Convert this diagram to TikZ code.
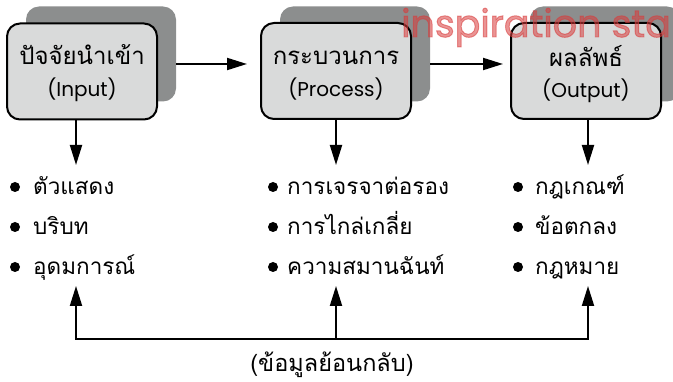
\documentclass[tikz,border=0pt]{standalone}
\usepackage{fontspec}
\newfontfamily\thai[Script=Thai]{Loma}
\newfontfamily\lat{Poppins}
\newfontfamily\wmfont[FakeBold=2.5]{Poppins}
\usetikzlibrary{arrows.meta}
\definecolor{boxfill}{HTML}{D9DADA}
\definecolor{shadowgray}{HTML}{8C8E8E}
\definecolor{wmred}{HTML}{D83C3C}
\tikzset{
  box/.style={draw=black, line width=2pt, fill=boxfill, rounded corners=13pt,
    minimum width=150pt, minimum height=96pt, inner sep=0pt},
  shadowbox/.style={fill=shadowgray, rounded corners=13pt,
    minimum width=150pt, minimum height=95pt, inner sep=0pt},
  arr/.style={line width=2pt, -{Triangle[length=20pt,width=12pt]}},
  conn/.style={line width=2pt},
  thaibox/.style={anchor=base, inner sep=0pt, font=\thai\fontsize{24}{26}\selectfont},
  latbox/.style={anchor=base, inner sep=0pt, font=\lat\fontsize{20}{22}\selectfont},
  item/.style={anchor=base west, inner sep=0pt, font=\thai\fontsize{22.5}{24}\selectfont},
  dot/.style={fill=black, circle, inner sep=0pt, minimum size=10pt}
}
\begin{document}
\begin{tikzpicture}[x=1pt,y=-1pt]
\useasboundingbox (0,0) rectangle (673,382);
% shadows
\node[shadowbox] (s1) at (101,54) {};
\node[shadowbox] (s2) at (355,54) {};
\node[shadowbox] (s3) at (605,54) {};
% boxes
\node[box] (in) at (82,71.5) {};
\node[box] (pr) at (336,71) {};
\node[box] (out) at (586,71) {};
\node[thaibox] (in1) at (82,65) {ปัจจัยนำเข้า};
\node[latbox] (in2) at (82,97) {(Input)};
\node[thaibox] (pr1) at (336,65) {กระบวนการ};
\node[latbox] (pr2) at (336,97) {(Process)};
\node[thaibox] (out1) at (586,67) {ผลลัพธ์};
\node[latbox] (out2) at (586,98) {(Output)};
% horizontal arrows
\draw[arr, shorten >=13pt] ([yshift=-10pt]s1.east) -- ([yshift=-10pt]s1.east -| pr.west);
\draw[arr, shorten >=7pt] ([yshift=-10pt]s2.east) -- ([yshift=-10pt]s2.east -| out.west);
% list tops / bottoms
\coordinate (t1) at (76,165);
\coordinate (t2) at (336,165);
\coordinate (t3) at (588,165);
\coordinate (b1) at (76,286);
\coordinate (b2) at (336,286);
\coordinate (b3) at (588,286);
\coordinate (f1) at (76,339);
\coordinate (f2) at (336,339);
\coordinate (f3) at (588,339);
\draw[arr] (in.south -| t1) -- (t1);
\draw[arr] (pr.south -| t2) -- (t2);
\draw[arr] (out.south -| t3) -- (t3);
% lists
\node[dot] (d11) at (15,187) {};
\node[dot] (d12) at (15,227) {};
\node[dot] (d13) at (15,267) {};
\node[item] (i11) at (33,195) {ตัวแสดง};
\node[item] (i12) at (33,235) {บริบท};
\node[item] (i13) at (33,275) {อุดมการณ์};
\node[dot] (d21) at (273,187) {};
\node[dot] (d22) at (273,227) {};
\node[dot] (d23) at (273,267) {};
\node[item] (i21) at (287,195) {การเจรจาต่อรอง};
\node[item] (i22) at (287,235) {การไกล่เกลี่ย};
\node[item] (i23) at (287,275) {ความสมานฉันท์};
\node[dot] (d31) at (518,187) {};
\node[dot] (d32) at (518,227) {};
\node[dot] (d33) at (518,267) {};
\node[item] (i31) at (535,195) {กฎเกณฑ์};
\node[item] (i32) at (535,235) {ข้อตกลง};
\node[item] (i33) at (535,275) {กฎหมาย};
% feedback
\draw[conn, line cap=rect] (f1) -- (f3);
\draw[arr] (f1) -- (b1);
\draw[arr] (f2) -- (b2);
\draw[arr] (f3) -- (b3);
\node[item, anchor=base, font=\thai\fontsize{23.5}{25}\selectfont] (fb) at (332,372) {(ข้อมูลย้อนกลับ)};
% watermark
\node[anchor=base west, inner sep=0pt, text=wmred, opacity=0.55, font=\wmfont\fontsize{38}{40}\selectfont] (wm) at (401,37) {inspiration sta};
\end{tikzpicture}
\end{document}
